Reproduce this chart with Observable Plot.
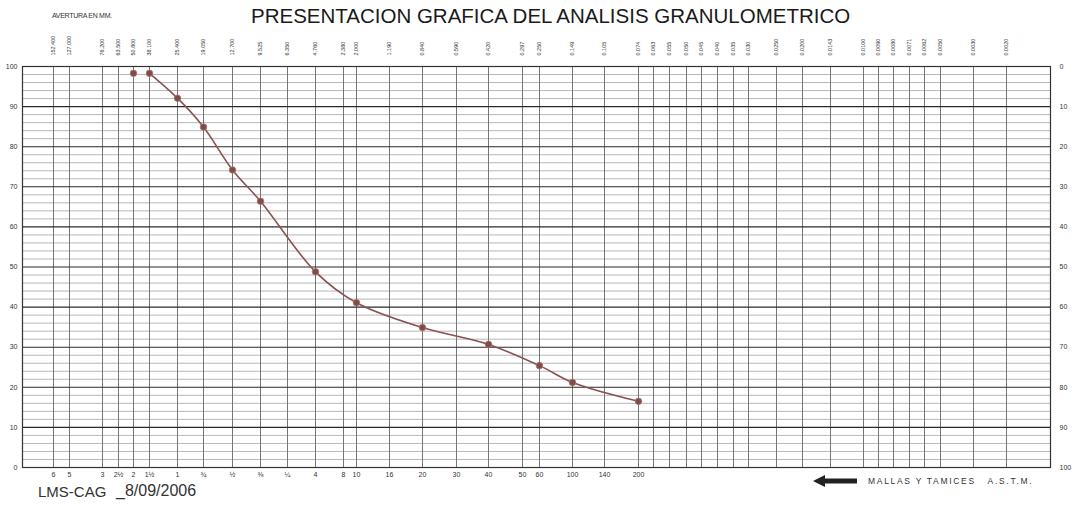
<!DOCTYPE html>
<html><head><meta charset="utf-8">
<script src="https://cdn.jsdelivr.net/npm/d3@7"></script>
<script src="https://cdn.jsdelivr.net/npm/@observablehq/plot@0.6"></script>
<style>
body{margin:0;background:#fff;}
#wrap{position:relative;width:1076px;height:510px;font-family:"Liberation Sans",Arial,sans-serif;overflow:hidden;}
#wrap svg.plot{position:absolute;left:0;top:0;}
.t{position:absolute;white-space:nowrap;color:#222;line-height:1;}
</style></head><body><div id="wrap"></div>
<script>
// ---- DATA ----
// sieve openings (mm) printed across the top of the form
const aperturesMM = [152.4, 127.0, 76.2, 63.5, 50.8, 38.1, 25.4, 19.05, 12.7, 9.525, 6.35, 4.76, 2.38, 2.0, 1.19, 0.84, 0.59, 0.42, 0.297, 0.25, 0.149, 0.105, 0.074,
  0.063, 0.055, 0.050, 0.045, 0.040, 0.035, 0.030, 0.025, 0.020, 0.0143, 0.0100, 0.0090, 0.0080, 0.0071, 0.0062, 0.0050, 0.0030, 0.0020];
const apertureLabels = ["152.400","127.000","76.200","63.500","50.800","38.100","25.400","19.050","12.700","9.525","6.350","4.760","2.380","2.000","1.190","0.840","0.590","0.420","0.297","0.250","0.149","0.105","0.074",
  "0.063","0.055","0.050","0.045","0.040","0.035","0.030","0.0250","0.0200","0.0143","0.0100","0.0090","0.0080","0.0071","0.0062","0.0050","0.0030","0.0020"];
// ASTM sieve designations (first 23 openings)
const sieveNames = ["6","5","3","2½","2","1½","1","¾","½","⅜","¼","4","8","10","16","20","30","40","50","60","100","140","200"];
// sample results
const sampleApertures = [50.8, 38.1, 25.4, 19.05, 12.7, 9.525, 4.76, 2.0, 0.84, 0.42, 0.25, 0.149, 0.074];
const percentPassing  = [98.3, 98.3, 92.1, 84.9, 74.2, 66.4, 48.8, 41.1, 34.9, 30.7, 25.4, 21.2, 16.5];
const yTicks = [0,10,20,30,40,50,60,70,80,90,100];

// ---- BUILD ----
const points = sampleApertures.map((a, i) => ({aperture: a, passing: percentPassing[i]}));
const topLabel = new Map(aperturesMM.map((a, i) => [a, apertureLabels[i]]));
const sieveApertures = aperturesMM.slice(0, sieveNames.length);
const sieveLabel = new Map(sieveApertures.map((a, i) => [a, sieveNames[i]]));
const minorY = d3.range(0, 101, 2).filter(d => d % 10 !== 0);

// the printed form uses an irregular (non-logarithmic) spacing of sieve columns
const formColumnsPx = [53,69,102,118,133,149,177,203,232,260,287,315,343,356,389,422,456,488,522,539,572,604,638,
  653,669,686,701,717,733,748,776,802,830,863,878,893,909,924,940,973,1006];

const chart = Plot.plot({
  width: 1076, height: 510,
  marginLeft: 22, marginRight: 26, marginTop: 66, marginBottom: 43,
  style: {fontFamily: '"Liberation Sans", Arial, sans-serif', color: "#333", background: "transparent"},
  x: {type: "linear", domain: aperturesMM, range: formColumnsPx},
  y: {domain: [0, 100]},
  marks: [
    Plot.ruleY(minorY, {stroke: "#a0a0a0", strokeWidth: 0.75}),
    Plot.ruleX(aperturesMM, {stroke: "#686868", strokeWidth: 0.9}),
    Plot.ruleY(yTicks, {stroke: "#2a2a2a", strokeWidth: 1.1}),
    Plot.frame({stroke: "#333", strokeWidth: 1.2}),
    Plot.axisY({anchor: "left", ticks: yTicks, tickSize: 0, tickPadding: 5, fontSize: 7, label: null}),
    Plot.axisY({anchor: "right", ticks: yTicks, tickSize: 0, tickPadding: 9, fontSize: 7, label: null, tickFormat: d => String(100 - d)}),
    Plot.axisX({anchor: "top", ticks: aperturesMM, tickSize: 0, tickPadding: 11, fontSize: 5.5, tickRotate: -90, label: null, tickFormat: d => topLabel.get(d)}),
    Plot.axisX({anchor: "bottom", ticks: sieveApertures, tickSize: 0, tickPadding: 5, fontSize: 7, label: null, tickFormat: d => sieveLabel.get(d)}),
    Plot.line(points.slice(1), {x: "aperture", y: "passing", curve: "catmull-rom", stroke: "#8a5252", strokeWidth: 1.6}),
    Plot.dot(points, {x: "aperture", y: "passing", r: 3.3, fill: "#7d4d4b", stroke: "#b07a68", strokeWidth: 0.8})
  ]
});
chart.classList.add("plot");
const wrap = document.getElementById("wrap");
wrap.appendChild(chart);

function addText(txt, css) {
  const d = document.createElement("div");
  d.className = "t";
  d.textContent = txt;
  Object.assign(d.style, css);
  wrap.appendChild(d);
  return d;
}
addText("PRESENTACION GRAFICA DEL ANALISIS GRANULOMETRICO", {left: "251px", top: "6px", fontSize: "20.5px", color: "#1a1a1a"});
addText("AVERTURA EN MM.", {left: "52px", top: "12px", fontSize: "7px", letterSpacing: "-0.3px", color: "#333"});
addText("LMS-CAG", {left: "38px", top: "484px", fontSize: "15px", color: "#333"});
addText("_8/09/2006", {left: "116px", top: "483px", fontSize: "16px", color: "#333"});
addText("MALLAS Y TAMICES   A.S.T.M.", {left: "868px", top: "477px", fontSize: "8.5px", letterSpacing: "1.7px", color: "#333", whiteSpace: "pre"});
// arrow pointing to the larger sieves
const arrow = document.createElementNS("http://www.w3.org/2000/svg", "svg");
arrow.setAttribute("width", "44"); arrow.setAttribute("height", "12");
arrow.style.position = "absolute"; arrow.style.left = "813px"; arrow.style.top = "475px";
arrow.innerHTML = '<path d="M0,6 L12,0 L12,3.5 L44,3.5 L44,8.5 L12,8.5 L12,12 Z" fill="#222"/>';
wrap.appendChild(arrow);
</script>
</body></html>
